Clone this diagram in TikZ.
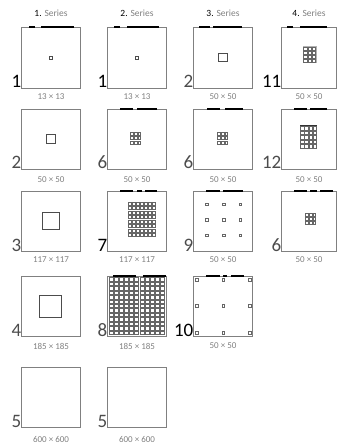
\documentclass[tikz,border=0pt]{standalone}
\usepackage{fontspec}
\setsansfont{Carlito}
\begin{document}
\begin{tikzpicture}[x=1pt,y=-1pt,
  boxline/.style={draw=black!50,line width=0.8pt},
  topbar/.style={draw=black,line width=1.2pt},
  numlab/.style={font=\sffamily\fontsize{19}{19}\selectfont,inner sep=0pt,anchor=base east},
  sizelab/.style={font=\sffamily\fontsize{9}{10}\selectfont,text=black!50,inner sep=0pt},
  titlelab/.style={font=\sffamily\fontsize{9.5}{10}\selectfont,text=black!50,inner sep=0pt},
  cell/.style={draw=black!60,line width=0.35pt,fill=white},
  one/.style={draw=black!70,line width=0.6pt}]
\useasboundingbox (0,0) rectangle (337,443);
\newcommand\sqgrid[8]{\foreach \i in {1,...,#3}{\foreach \j in {1,...,#4}{\draw[cell] ({#1+(\i-1)*#5},{#2+(\j-1)*#6}) rectangle ++(#7,#8);}}}
% titles
\node[titlelab] (t1) at (51,13) {\textcolor{black}{1.} Series};
\node[titlelab] (t2) at (137,13) {\textcolor{black}{2.} Series};
\node[titlelab] (t3) at (223,13) {\textcolor{black}{3.} Series};
\node[titlelab] (t4) at (309,13) {\textcolor{black}{4.} Series};
% ---------- row 1 ----------
\draw[boxline] (21.5,27) rectangle (80.5,88);
\draw[boxline] (107.5,27) rectangle (166.5,88);
\draw[boxline] (193.5,27) rectangle (252.5,88);
\draw[boxline] (281.5,27) rectangle (336.5,88);
\draw[topbar] (29,27) -- (35,27) (41,27) -- (74,27);
\draw[topbar] (114,27) -- (120,27) (127,27) -- (159,27);
\draw[topbar] (199,27) -- (210,27) (213,27) -- (242,27);
\draw[topbar] (287,27) -- (293,27) (300,27) -- (327,27);
\node[numlab,text=black] (n11) at (21.5,88) {1};
\node[numlab,text=black] (n12) at (107.5,88) {1};
\node[numlab,text=black!70] (n13) at (193.5,88) {2};
\node[numlab,text=black] (n14) at (281.5,88) {11};
\node[sizelab] (s11) at (51,97) {13 × 13};
\node[sizelab] (s12) at (137,97) {13 × 13};
\node[sizelab] (s13) at (223,97) {50 × 50};
\node[sizelab] (s14) at (309,97) {50 × 50};
\draw[one] (49.4,55.9) rectangle ++(3.2,3.2);
\draw[one] (135.4,55.9) rectangle ++(3.2,3.2);
\draw[one] (218.5,53.5) rectangle ++(9,8);
\fill[black!30] (302.5,46) rectangle (316.5,63);
\sqgrid{303.5}{47}{3}{4}{4.3}{4}{3.4}{3}
% ---------- row 2 ----------
\draw[boxline] (21.5,109) rectangle (80.5,169);
\draw[boxline] (107.5,109) rectangle (166.5,169);
\draw[boxline] (193.5,109) rectangle (252.5,169);
\draw[boxline] (281.5,109) rectangle (336.5,169);
\draw[topbar] (120,109) -- (133,109) (137,109) -- (157,109);
\draw[topbar] (207,109) -- (220,109) (225,109) -- (243,109);
\draw[topbar] (294,109) -- (307,109) (310,109) -- (327,109);
\node[numlab,text=black!70] (n21) at (21.5,169) {2};
\node[numlab,text=black!70] (n22) at (107.5,169) {6};
\node[numlab,text=black!70] (n23) at (193.5,169) {6};
\node[numlab,text=black!70] (n24) at (281.5,169) {12};
\node[sizelab] (s21) at (51,180) {50 × 50};
\node[sizelab] (s22) at (137,180) {50 × 50};
\node[sizelab] (s23) at (223,180) {50 × 50};
\node[sizelab] (s24) at (309,180) {50 × 50};
\draw[one] (46.6,134.6) rectangle ++(8.8,8.8);
\sqgrid{130.5}{132}{3}{3}{3.6}{4.5}{2.8}{3}
\sqgrid{217.5}{132}{3}{3}{3.6}{4.5}{2.8}{3}
\fill[black!35] (300,126) rectangle (317,149);
\sqgrid{300.5}{126.5}{4}{5}{4.1}{4.5}{3.2}{3.2}
\draw[black!80,line width=1pt] (300,126) -- (317,126);
% ---------- row 3 ----------
\draw[boxline] (21.5,191) rectangle (80.5,251);
\draw[boxline] (107.5,191) rectangle (166.5,251);
\draw[boxline] (193.5,191) rectangle (252.5,251);
\draw[boxline] (281.5,191) rectangle (336.5,251);
\draw[topbar] (120,191) -- (133,191) (137,191) -- (142,191) (145,191) -- (157,191);
\draw[topbar] (206,191) -- (220,191) (223,191) -- (243,191);
\draw[topbar] (294,191) -- (307,191) (310,191) -- (317,191) (320,191) -- (333,191);
\node[numlab,text=black!70] (n31) at (21.5,251) {3};
\node[numlab,text=black] (n32) at (107.5,251) {7};
\node[numlab,text=black!70] (n33) at (193.5,251) {9};
\node[numlab,text=black!70] (n34) at (281.5,251) {6};
\node[sizelab] (s31) at (51,260) {117 × 117};
\node[sizelab] (s32) at (137,260) {117 × 117};
\node[sizelab] (s33) at (223,260) {50 × 50};
\node[sizelab] (s34) at (309,260) {50 × 50};
\draw[one] (42.5,212.5) rectangle ++(16.5,16.5);
\sqgrid{128}{202}{7}{8}{4}{4.5}{3}{3}
\sqgrid{205.5}{203}{3}{3}{16.7}{15.5}{2.6}{2.6}
\sqgrid{305.5}{213}{3}{3}{3.6}{4.2}{2.8}{3}
% ---------- row 4 ----------
\draw[boxline] (21.5,276) rectangle (80.5,336);
\draw[boxline] (107.5,276) rectangle (166.5,336);
\draw[boxline] (193.5,276) rectangle (252.5,336);
\draw[topbar] (113,276) -- (136,276) (143,276) -- (166,276);
\draw[topbar] (206,276) -- (220,276) (223,276) -- (227,276) (231,276) -- (244,276);
\node[numlab,text=black!70] (n41) at (21.5,336) {4};
\node[numlab,text=black!70] (n42) at (107.5,336) {8};
\node[numlab,text=black] (n43) at (193.5,336) {10};
\node[sizelab] (s41) at (51,346) {185 × 185};
\node[sizelab] (s42) at (137,346) {185 × 185};
\node[sizelab] (s43) at (223,346) {50 × 50};
\draw[one] (39.5,295.5) rectangle ++(22,22);
\sqgrid{108.8}{277.5}{11}{13}{5.15}{4.45}{4}{3.4}
\sqgrid{195.3}{278}{3}{3}{26.5}{26.5}{2.8}{2.8}
% ---------- row 5 ----------
\draw[boxline] (21.5,367) rectangle (80.5,427);
\draw[boxline] (107.5,367) rectangle (166.5,427);
\node[numlab,text=black!70] (n51) at (21.5,427) {5};
\node[numlab,text=black!70] (n52) at (107.5,427) {5};
\node[sizelab] (s51) at (51,439) {600 × 600};
\node[sizelab] (s52) at (137,439) {600 × 600};
\end{tikzpicture}
\end{document}
